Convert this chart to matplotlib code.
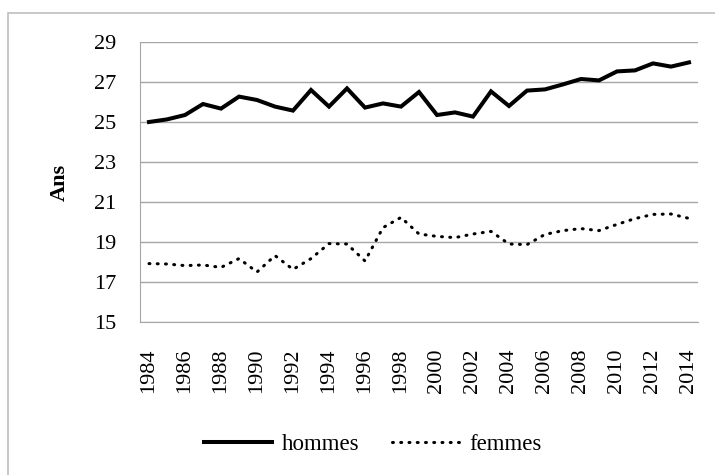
import matplotlib
matplotlib.use("Agg")
import matplotlib.pyplot as plt
from matplotlib.lines import Line2D
from matplotlib.patches import Rectangle

years = list(range(1984, 2015))
hommes = [25.0, 25.13, 25.35, 25.9, 25.67, 26.27, 26.1, 25.77, 25.57, 26.6,
          25.77, 26.68, 25.72, 25.93, 25.77, 26.5, 25.35, 25.48, 25.27, 26.53,
          25.8, 26.57, 26.63, 26.88, 27.15, 27.08, 27.53, 27.58, 27.93, 27.77, 27.98]
femmes = [17.92, 17.9, 17.82, 17.85, 17.73, 18.17, 17.5, 18.32, 17.63, 18.17,
          18.92, 18.9, 18.05, 19.72, 20.23, 19.4, 19.28, 19.22, 19.4, 19.53,
          18.9, 18.87, 19.38, 19.57, 19.67, 19.57, 19.88, 20.17, 20.38, 20.4, 20.18]
yticks = [15, 17, 19, 21, 23, 25, 27, 29]
xtick_labels = [str(y) for y in years[::2]]

plt.rcParams['font.family'] = ['Liberation Serif', 'DejaVu Serif']

W, H = 715, 475
fig = plt.figure(figsize=(W / 100, H / 100), dpi=100)
# outer border (extends beyond right/bottom edges as in the reference)
fig.patches.append(Rectangle((8 / W, -10 / H), 720 / W, (H - 13 + 10) / H, transform=fig.transFigure,
                             fill=False, edgecolor='#bfbfbf', linewidth=1.2))

ax = fig.add_axes([140 / W, 1 - 322 / H, 558 / W, 280 / H])
x = list(range(len(years)))
dot_style = (0, (0.3, 2.4))
ax.plot(x, hommes, color='black', linewidth=2.9, solid_joinstyle='miter')
ax.plot(x, femmes, color='black', linewidth=2.2, linestyle=dot_style, dash_capstyle='round')

ax.set_xlim(-0.5, len(years) - 0.5)
ax.set_ylim(15, 29)
ax.set_yticks(yticks)
ax.set_yticklabels([str(v) for v in yticks], fontsize=16)
ax.set_xticks(x[::2])
ax.set_xticklabels(xtick_labels, rotation=90, fontsize=16)
ax.tick_params(axis='x', length=0, pad=19)
ax.tick_params(axis='y', length=0, pad=17)
ax.yaxis.grid(True, color='#a6a6a6', linewidth=1)
ax.set_axisbelow(True)
for s in ['top', 'right']:
    ax.spines[s].set_visible(False)
ax.spines['left'].set_color('#a6a6a6')
ax.spines['bottom'].set_color('#a6a6a6')
fig.text(60 / W, 1 - 182 / H, 'Ans', rotation=90, ha='center', va='center',
         fontsize=16, fontweight='bold')

handles = [Line2D([], [], color='black', linewidth=2.9),
           Line2D([], [], color='black', linewidth=2.2, linestyle=dot_style, dash_capstyle='round')]
fig.legend(handles, ['hommes', 'femmes'], loc='center', bbox_to_anchor=(373 / W, 1 - 444 / H),
           ncol=2, frameon=False, fontsize=16.5, handlelength=2.95, handletextpad=0.45,
           columnspacing=1.4, borderpad=0, borderaxespad=0)

fig.savefig('out.png', dpi=100)
